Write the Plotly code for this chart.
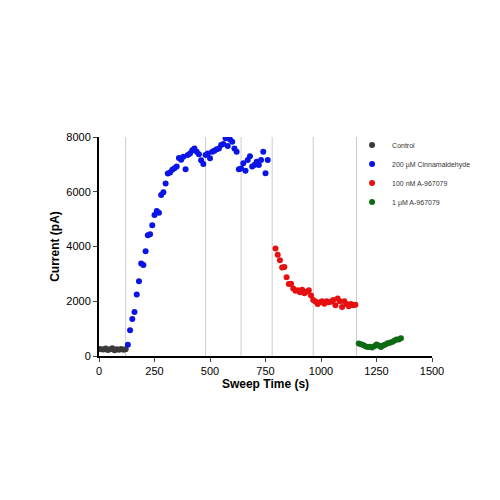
import plotly.graph_objects as go

control_y = [260, 250, 240, 270, 220, 250, 280, 210, 250, 230, 260, 230, 250]
cinn_y = [415, 940, 1350, 1610, 2250, 2730, 3380, 3320, 3830, 4410, 4450, 4780, 5150, 5300,
          5230, 5880, 5980, 6300, 6670, 6700, 6800, 6860, 6920, 7230, 7170, 7280, 6820, 7340,
          7400, 7520, 7580, 7460, 7370, 7150, 7010, 7340, 7400, 7220, 7460, 7500, 7550, 7580,
          7710, 7740, 7950, 7670, 7910, 7830, 7580, 7460, 6820, 6850, 7040, 6770, 7160, 7300,
          6920, 6980, 7100, 6980, 7160, 7460, 6680, 7160]
red_y = [3930, 3700, 3500, 3230, 3250, 2880, 2630, 2640, 2470, 2380, 2400, 2330, 2420, 2290,
         2350, 2400, 2210, 2050, 1990, 1900, 1960, 2000, 1910, 2000, 1960, 1980, 2050, 1850,
         2100, 2000, 1790, 2000, 1900, 1820, 1900, 1850, 1870]
green_y = [460, 430, 400, 360, 330, 340, 310, 360, 420, 380, 330, 380, 420, 470, 480, 510,
           560, 600, 600, 650]

control_x = [10 * i for i in range(len(control_y))]
cinn_x = [130 + 10 * i for i in range(len(cinn_y))]
red_x = [795 + 10 * i for i in range(len(red_y))]
green_x = [1170 + 10 * i for i in range(len(green_y))]

change_times = [120, 480, 640, 780, 965, 1160]

series = [
    ("Control", control_x, control_y, "#3a3a3a"),
    ("200 µM Cinnamaldehyde", cinn_x, cinn_y, "#0a14e6"),
    ("100 nM A-967079", red_x, red_y, "#e61010"),
    ("1 µM A-967079", green_x, green_y, "#0e6a12"),
]

fig = go.Figure()
for name, xs, ys, col in series:
    fig.add_trace(go.Scatter(x=xs, y=ys, mode="markers", name=name,
                             marker=dict(color=col, size=6)))

for t in change_times:
    fig.add_vline(x=t, line_color="#cccccc", line_width=1, layer="below")

fig.update_layout(
    width=500, height=500,
    plot_bgcolor="white", paper_bgcolor="white",
    font=dict(family="Liberation Sans, Arial", color="black"),
    margin=dict(l=91, r=76, t=129, b=152),
    legend=dict(x=0.76, y=1.03, xanchor="left", yanchor="top",
                font=dict(size=7, color="#333333"), bgcolor="rgba(0,0,0,0)",
                itemsizing="trace", tracegroupgap=0, itemwidth=30),
    showlegend=True,
)
fig.update_xaxes(range=[0, 1500], tickvals=[0, 250, 500, 750, 1000, 1250, 1500],
                 showgrid=False, zeroline=False, showline=True, linecolor="black",
                 linewidth=2, ticks="outside", ticklen=4, tickfont=dict(size=11),
                 title=dict(text="<b>Sweep Time (s)</b>", font=dict(size=12), standoff=2))
fig.update_yaxes(range=[0, 8000], tickvals=[0, 2000, 4000, 6000, 8000],
                 showgrid=False, zeroline=False, showline=True, linecolor="black",
                 linewidth=2, ticks="outside", ticklen=4, tickfont=dict(size=11),
                 title=dict(text="<b>Current (pA)</b>", font=dict(size=12), standoff=4))

fig.write_html("out.html")
